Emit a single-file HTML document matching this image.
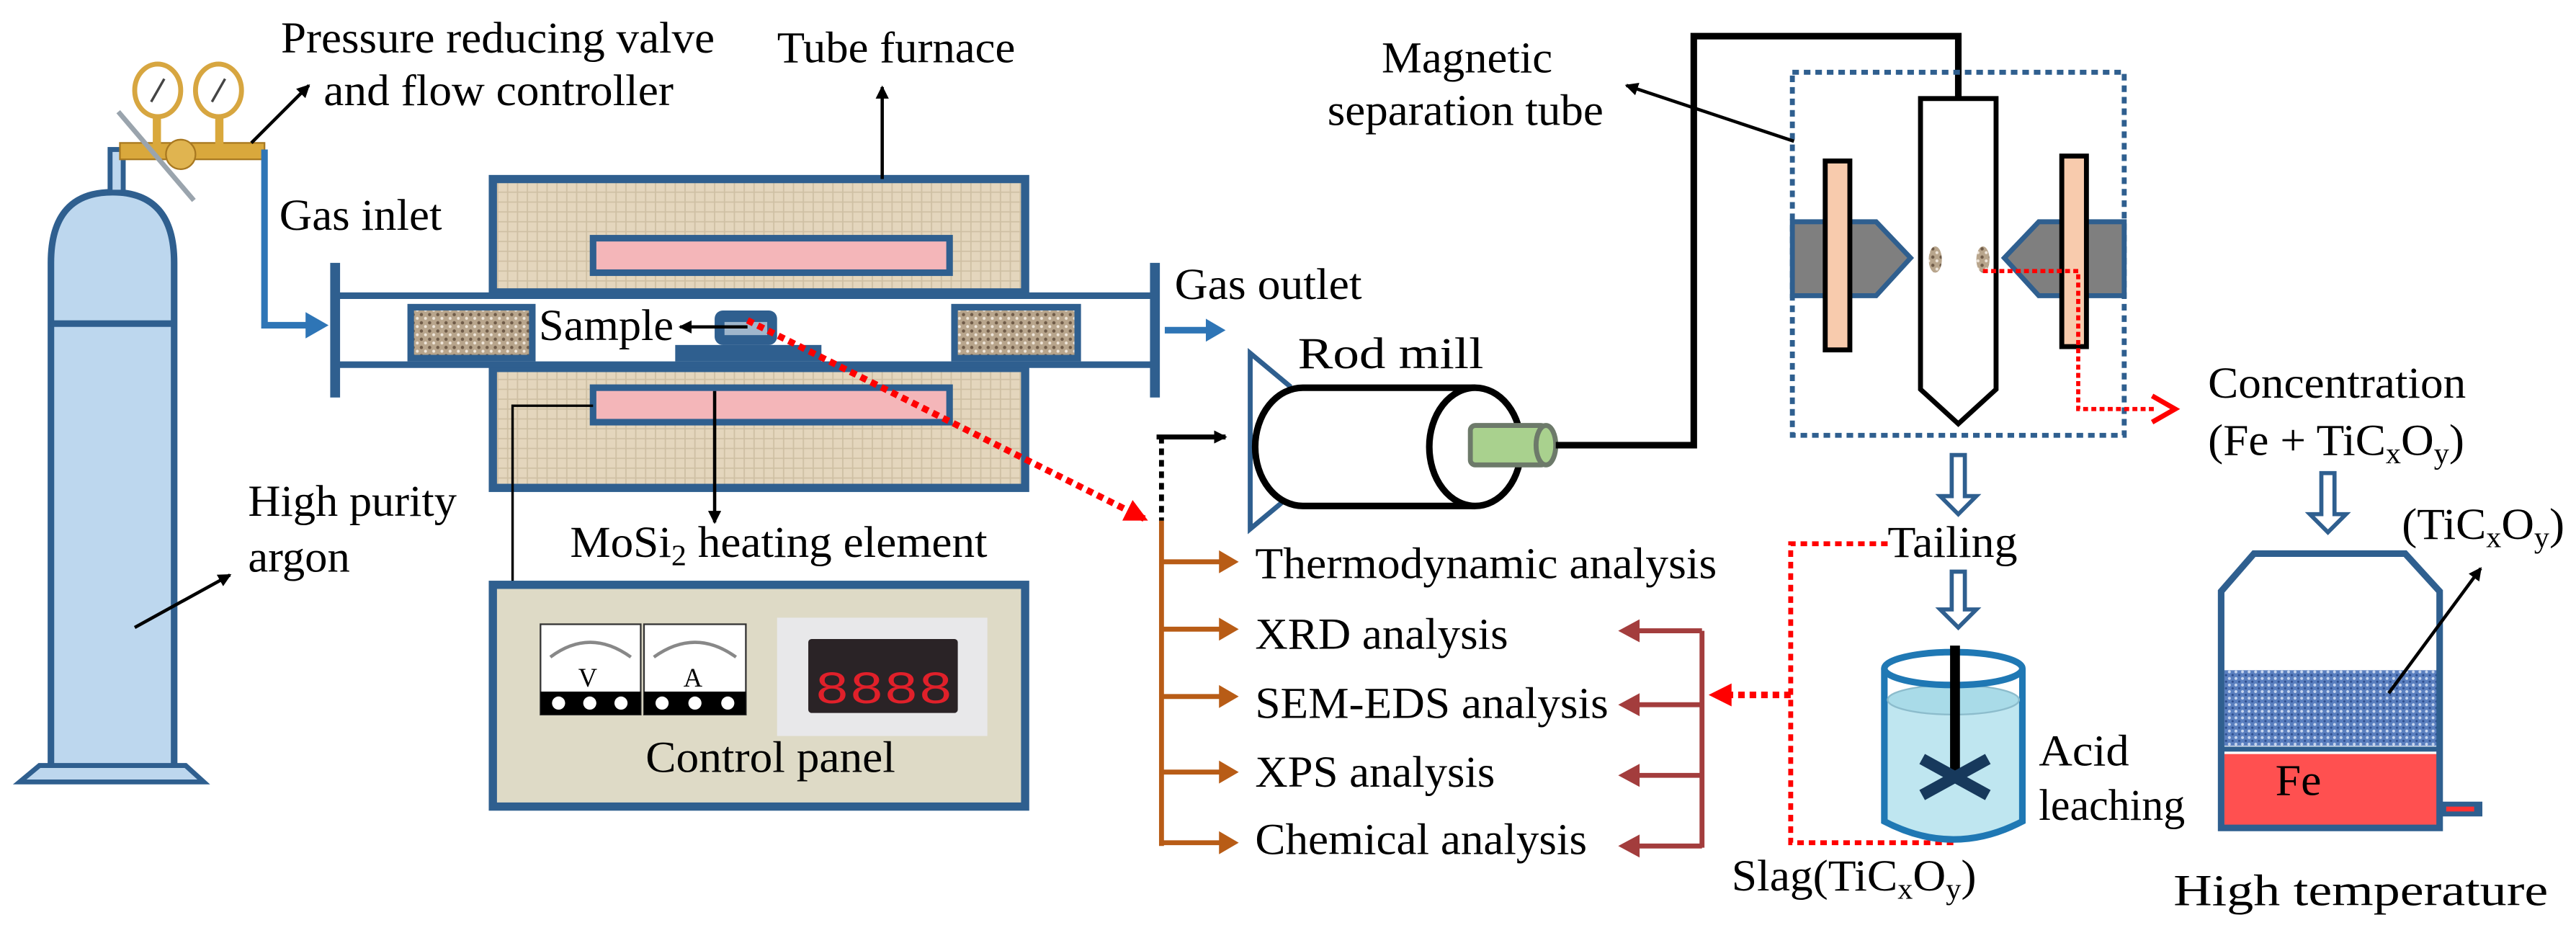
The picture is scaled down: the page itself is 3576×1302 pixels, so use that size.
<!DOCTYPE html>
<html><head><meta charset="utf-8"><style>html,body{margin:0;padding:0;background:#fff}svg{display:block}svg text{font-family:"Liberation Serif","Times New Roman",serif}</style></head>
<body>
<svg width="3576" height="1302" viewBox="0 0 1568 571" preserveAspectRatio="none" xmlns="http://www.w3.org/2000/svg" font-size="27">
<defs>
<pattern id="ins" width="6" height="6" patternUnits="userSpaceOnUse"><rect width="6" height="6" fill="#e4d6bd"/><path d="M0 3H6M3 0V6" stroke="#cfc0a4" stroke-width="0.8"/></pattern>
<pattern id="spk" width="5" height="5" patternUnits="userSpaceOnUse"><rect width="5" height="5" fill="#b8a58c"/><circle cx="1.5" cy="1.5" r="1" fill="#6f5b48"/><circle cx="4" cy="3.8" r="0.9" fill="#efe6da"/></pattern>
<pattern id="blu" width="4" height="4" patternUnits="userSpaceOnUse"><rect width="4" height="4" fill="#5a7fbf"/><circle cx="1" cy="1" r="0.9" fill="#c7d6ee"/><circle cx="3" cy="3" r="0.7" fill="#2f4f8f"/></pattern>
<marker id="ab" markerWidth="8" markerHeight="8" refX="7" refY="4" orient="auto" markerUnits="userSpaceOnUse"><path d="M0 0L8 4L0 8z" fill="#000"/></marker>
<marker id="ar" markerWidth="14" markerHeight="14" refX="12" refY="7" orient="auto" markerUnits="userSpaceOnUse"><path d="M0 0L14 7L0 14z" fill="#f00"/></marker>
</defs>

<path d="M31 466 V160 Q31 117 68.5 117 Q106 117 106 160 V466" fill="#bdd7ee" stroke="#2f5f8f" stroke-width="4"/>
<line x1="31" y1="197" x2="106" y2="197" stroke="#2f5f8f" stroke-width="4"/>
<path d="M24 466 H113 L124 476 H12 Z" fill="#bdd7ee" stroke="#2f5f8f" stroke-width="3"/>
<rect x="67" y="91" width="8" height="26" fill="#bdd7ee" stroke="#2f5f8f" stroke-width="3"/>
<rect x="73" y="87" width="88" height="10" fill="#d9a83c" stroke="#a87820" stroke-width="1"/>
<circle cx="110" cy="94" r="9" fill="#e0b450" stroke="#a87820"/>
<line x1="72" y1="68" x2="118" y2="122" stroke="#9aa4ad" stroke-width="3"/>
<rect x="93" y="68" width="5" height="20" fill="#d9a83c"/><rect x="131" y="68" width="5" height="20" fill="#d9a83c"/>
<ellipse cx="96" cy="55" rx="14" ry="16" fill="#fff" stroke="#d7a640" stroke-width="3"/>
<ellipse cx="133" cy="55" rx="14" ry="16" fill="#fff" stroke="#d7a640" stroke-width="3"/>
<line x1="92" y1="62" x2="100" y2="48" stroke="#444" stroke-width="1.5"/><line x1="129" y1="62" x2="137" y2="48" stroke="#444" stroke-width="1.5"/>
<path d="M161 91 V198 H190" fill="none" stroke="#2e75b6" stroke-width="4"/>
<path d="M186 190 L200 198 L186 206 Z" fill="#2e75b6"/>
<line x1="153" y1="87" x2="188" y2="52" stroke="#000" stroke-width="2" marker-end="url(#ab)"/>
<text x="171" y="32" textLength="264" lengthAdjust="spacingAndGlyphs">Pressure reducing valve</text>
<text x="197" y="64" textLength="213" lengthAdjust="spacingAndGlyphs">and flow controller</text>
<text x="170" y="140" textLength="99" lengthAdjust="spacingAndGlyphs">Gas inlet</text>
<text x="151" y="314" textLength="127" lengthAdjust="spacingAndGlyphs">High purity</text>
<text x="151" y="348" textLength="62" lengthAdjust="spacingAndGlyphs">argon</text>
<line x1="82" y1="382" x2="140" y2="350" stroke="#000" stroke-width="2" marker-end="url(#ab)"/>

<rect x="300" y="109" width="324" height="69" fill="url(#ins)" stroke="#2f5f8f" stroke-width="5"/>
<rect x="300" y="224" width="324" height="73" fill="url(#ins)" stroke="#2f5f8f" stroke-width="5"/>
<rect x="361" y="145" width="217" height="21" fill="#f4b6b9" stroke="#2f5f8f" stroke-width="4"/>
<rect x="361" y="236" width="217" height="21" fill="#f4b6b9" stroke="#2f5f8f" stroke-width="4"/>
<line x1="204" y1="180" x2="703" y2="180" stroke="#2f5f8f" stroke-width="4"/>
<line x1="204" y1="222" x2="703" y2="222" stroke="#2f5f8f" stroke-width="4"/>
<line x1="204" y1="160" x2="204" y2="242" stroke="#2f5f8f" stroke-width="6"/>
<line x1="703" y1="160" x2="703" y2="242" stroke="#2f5f8f" stroke-width="6"/>
<rect x="250" y="187" width="74" height="31" fill="url(#spk)" stroke="#2f5f8f" stroke-width="4"/>
<rect x="581" y="187" width="75" height="31" fill="url(#spk)" stroke="#2f5f8f" stroke-width="4"/>
<rect x="435" y="189" width="38" height="21" rx="5" fill="#2f5f8f"/><rect x="441" y="196" width="26" height="8" fill="#9fb6cc"/>
<rect x="411" y="210" width="89" height="10" fill="#2f5f8f"/>
<line x1="455" y1="199" x2="414" y2="199" stroke="#000" stroke-width="2" marker-end="url(#ab)"/>
<text x="328" y="207" textLength="82" lengthAdjust="spacingAndGlyphs">Sample</text>
<line x1="537" y1="109" x2="537" y2="53" stroke="#000" stroke-width="2" marker-end="url(#ab)"/>
<text x="473" y="38" textLength="145" lengthAdjust="spacingAndGlyphs">Tube furnace</text>
<line x1="709" y1="201" x2="736" y2="201" stroke="#2e75b6" stroke-width="4"/>
<path d="M734 194 L746 201 L734 208 Z" fill="#2e75b6"/>
<text x="715" y="182" textLength="114" lengthAdjust="spacingAndGlyphs">Gas outlet</text>
<line x1="435" y1="238" x2="435" y2="318" stroke="#000" stroke-width="2" marker-end="url(#ab)"/>
<text x="347" y="339" textLength="254" lengthAdjust="spacingAndGlyphs">MoSi<tspan font-size="18" dy="5">2</tspan><tspan dy="-5"> heating element</tspan></text>
<path d="M361 247 H312 V408 H329" fill="none" stroke="#000" stroke-width="1.5"/>

<rect x="300" y="356" width="324" height="135" fill="#dedac6" stroke="#2f5f8f" stroke-width="5"/>
<rect x="329" y="380" width="61" height="55" fill="#fff" stroke="#333" stroke-width="1"/>
<rect x="329" y="421" width="61" height="14" fill="#000"/>
<rect x="392" y="380" width="62" height="55" fill="#fff" stroke="#333" stroke-width="1"/>
<rect x="392" y="421" width="62" height="14" fill="#000"/>
<path d="M335 400 Q359 382 384 400" fill="none" stroke="#888" stroke-width="2"/>
<path d="M398 400 Q423 382 448 400" fill="none" stroke="#888" stroke-width="2"/>
<text x="352" y="418" font-size="16">V</text><text x="416" y="418" font-size="16">A</text>
<g fill="#fff"><circle cx="340" cy="428" r="4"/><circle cx="359" cy="428" r="4"/><circle cx="378" cy="428" r="4"/><circle cx="403" cy="428" r="4"/><circle cx="423" cy="428" r="4"/><circle cx="443" cy="428" r="4"/></g>
<rect x="473" y="376" width="128" height="72" fill="#e8e8ea"/>
<rect x="492" y="389" width="91" height="45" rx="2" fill="#2a2326"/>
<text x="496" y="428" style="font-family:'Liberation Mono',monospace" font-size="28" fill="#e0202a" textLength="84" lengthAdjust="spacingAndGlyphs">8888</text>
<text x="393" y="470" textLength="152" lengthAdjust="spacingAndGlyphs">Control panel</text>

<line x1="455" y1="195" x2="697" y2="316" stroke="#f00" stroke-width="4" stroke-dasharray="4 3" marker-end="url(#ar)"/>

<line x1="704" y1="266" x2="746" y2="266" stroke="#000" stroke-width="3" marker-end="url(#ab)"/>
<line x1="707" y1="266" x2="707" y2="317" stroke="#000" stroke-width="3" stroke-dasharray="4 3"/>
<line x1="707" y1="317" x2="707" y2="515" stroke="#b85c16" stroke-width="3"/>
<g stroke="#b85c16" stroke-width="3" fill="#b85c16">
<line x1="707" y1="342" x2="744" y2="342"/><path d="M742 335 L754 342 L742 349Z" stroke="none"/>
<line x1="707" y1="383" x2="744" y2="383"/><path d="M742 376 L754 383 L742 390Z" stroke="none"/>
<line x1="707" y1="424" x2="744" y2="424"/><path d="M742 417 L754 424 L742 431Z" stroke="none"/>
<line x1="707" y1="470" x2="744" y2="470"/><path d="M742 463 L754 470 L742 477Z" stroke="none"/>
<line x1="707" y1="513" x2="744" y2="513"/><path d="M742 506 L754 513 L742 520Z" stroke="none"/>
</g>
<text x="764" y="352" textLength="281" lengthAdjust="spacingAndGlyphs">Thermodynamic analysis</text>
<text x="764" y="395" textLength="154" lengthAdjust="spacingAndGlyphs">XRD analysis</text>
<text x="764" y="437" textLength="215" lengthAdjust="spacingAndGlyphs">SEM-EDS analysis</text>
<text x="764" y="479" textLength="146" lengthAdjust="spacingAndGlyphs">XPS analysis</text>
<text x="764" y="520" textLength="202" lengthAdjust="spacingAndGlyphs">Chemical analysis</text>
<g stroke="#a33d3d" stroke-width="3" fill="#a33d3d">
<line x1="1036" y1="384" x2="1036" y2="516"/>
<line x1="995" y1="384" x2="1036" y2="384"/><path d="M998 377 L985 384 L998 391Z" stroke="none"/>
<line x1="995" y1="429" x2="1036" y2="429"/><path d="M998 422 L985 429 L998 436Z" stroke="none"/>
<line x1="995" y1="472" x2="1036" y2="472"/><path d="M998 465 L985 472 L998 479Z" stroke="none"/>
<line x1="995" y1="515" x2="1036" y2="515"/><path d="M998 508 L985 515 L998 522Z" stroke="none"/>
</g>
<path d="M1149 331 H1090 V513 H1190" fill="none" stroke="#f00" stroke-width="3" stroke-dasharray="4 3"/>
<line x1="1090" y1="423" x2="1042" y2="423" stroke="#f00" stroke-width="4" stroke-dasharray="4 3" marker-end="url(#ar)"/>
<text x="1054" y="542" textLength="149" lengthAdjust="spacingAndGlyphs">Slag(TiC<tspan font-size="18" dy="5">x</tspan><tspan dy="-5">O</tspan><tspan font-size="18" dy="5">y</tspan><tspan dy="-5">)</tspan></text>

<path d="M761 215 L785 235 L785 302 L761 322 Z" fill="none" stroke="#2f5f8f" stroke-width="3"/>
<path d="M898 236 H793 A29 36 0 0 0 793 308 H898" fill="#fff" stroke="#000" stroke-width="4"/>
<ellipse cx="898" cy="272" rx="28" ry="36" fill="#fff" stroke="#000" stroke-width="4"/>
<rect x="895" y="259" width="46" height="24" rx="3" fill="#a9d18e" stroke="#6d7a6a" stroke-width="3"/>
<ellipse cx="941" cy="271" rx="6" ry="12" fill="#a9d18e" stroke="#6d7a6a" stroke-width="3"/>
<text x="790" y="224" textLength="113" lengthAdjust="spacingAndGlyphs">Rod mill</text>
<path d="M947 271 H1031 V22 H1192 V60" fill="none" stroke="#000" stroke-width="4"/>

<rect x="1091" y="44" width="202" height="221" fill="none" stroke="#2f5f8f" stroke-width="3" stroke-dasharray="4 3"/>
<path d="M1169 60 H1215 V237 L1192 258 L1169 237 Z" fill="#fff" stroke="#000" stroke-width="3"/>
<path d="M1091 135 H1142 L1163 157 L1142 180 H1091 Z" fill="#7f7f7f" stroke="#2f5f8f" stroke-width="3"/>
<path d="M1293 135 H1241 L1220 157 L1241 180 H1293 Z" fill="#7f7f7f" stroke="#2f5f8f" stroke-width="3"/>
<rect x="1111" y="98" width="15" height="115" fill="#f8cbad" stroke="#000" stroke-width="3"/>
<rect x="1255" y="95" width="15" height="116" fill="#f8cbad" stroke="#000" stroke-width="3"/>
<ellipse cx="1178" cy="158" rx="4" ry="8" fill="url(#spk)"/><ellipse cx="1207" cy="158" rx="4" ry="8" fill="url(#spk)"/>
<path d="M1207 165 H1265 V249 H1312" fill="none" stroke="#f00" stroke-width="2.5" stroke-dasharray="3 2"/>
<path d="M1310 241 L1324 249 L1310 257" fill="none" stroke="#f00" stroke-width="3"/>
<line x1="1092" y1="86" x2="990" y2="52" stroke="#000" stroke-width="2" marker-end="url(#ab)"/>
<text x="841" y="44" textLength="104" lengthAdjust="spacingAndGlyphs">Magnetic</text>
<text x="808" y="76" textLength="168" lengthAdjust="spacingAndGlyphs">separation tube</text>

<g fill="#fff" stroke="#2f5f8f" stroke-width="2.5">
<path d="M1188 277 H1196 V302 H1203 L1192 313 L1181 302 H1188 Z"/>
<path d="M1188 348 H1196 V371 H1203 L1192 382 L1181 371 H1188 Z"/>
<path d="M1413 288 H1421 V313 H1428 L1417 324 L1406 313 H1413 Z"/>
</g>
<text x="1149" y="339" textLength="79" lengthAdjust="spacingAndGlyphs">Tailing</text>

<path d="M1147 407 V500 Q1189 522 1231 500 V407" fill="#bfe6f0" stroke="#1f78b4" stroke-width="4"/>
<path d="M1149 407 V426 Q1189 440 1229 426 V407" fill="#fff"/>
<ellipse cx="1189" cy="426" rx="40" ry="9" fill="#a9dbe8" stroke="#8cbccc" stroke-width="1"/>
<ellipse cx="1189" cy="407" rx="42" ry="10" fill="none" stroke="#1f78b4" stroke-width="4"/>
<line x1="1190" y1="393" x2="1190" y2="470" stroke="#000" stroke-width="6"/>
<path d="M1170 462 L1210 484 M1210 462 L1170 484" stroke="#17395c" stroke-width="7"/>
<text x="1241" y="466" textLength="55" lengthAdjust="spacingAndGlyphs">Acid</text>
<text x="1241" y="499" textLength="89" lengthAdjust="spacingAndGlyphs">leaching</text>

<text x="1344" y="242" textLength="157" lengthAdjust="spacingAndGlyphs">Concentration</text>
<text x="1344" y="277" textLength="156" lengthAdjust="spacingAndGlyphs">(Fe + TiC<tspan font-size="18" dy="5">x</tspan><tspan dy="-5">O</tspan><tspan font-size="18" dy="5">y</tspan><tspan dy="-5">)</tspan></text>
<text x="1462" y="328" textLength="99" lengthAdjust="spacingAndGlyphs">(TiC<tspan font-size="18" dy="5">x</tspan><tspan dy="-5">O</tspan><tspan font-size="18" dy="5">y</tspan><tspan dy="-5">)</tspan></text>
<rect x="1354" y="408" width="130" height="46" fill="url(#blu)"/>
<rect x="1354" y="459" width="130" height="44" fill="#ff5050"/>
<path d="M1352 504 V360 L1372 337 H1464 L1485 360 V504 Z" fill="none" stroke="#2f5f8f" stroke-width="4"/>
<line x1="1352" y1="456" x2="1485" y2="456" stroke="#2f5f8f" stroke-width="3"/>
<rect x="1485" y="488" width="26" height="9" fill="#2f5f8f"/><line x1="1489" y1="492.5" x2="1506" y2="492.5" stroke="#f33" stroke-width="3"/>
<text x="1385" y="484" textLength="28" lengthAdjust="spacingAndGlyphs">Fe</text>
<line x1="1454" y1="422" x2="1510" y2="346" stroke="#000" stroke-width="2" marker-end="url(#ab)"/>
<text x="1323" y="551" textLength="228" lengthAdjust="spacingAndGlyphs">High temperature</text>
</svg>
</body></html>
